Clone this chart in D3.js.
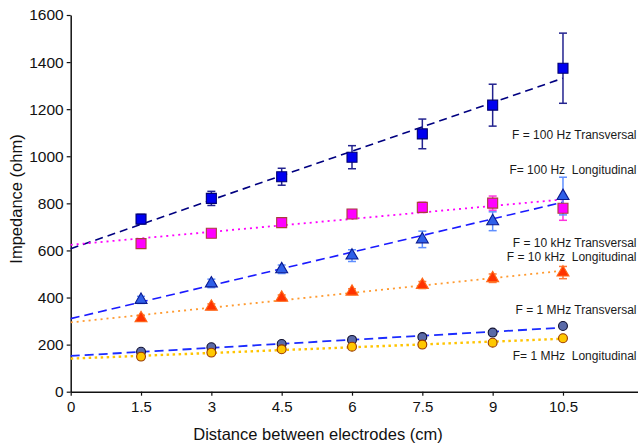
<!DOCTYPE html>
<html>
<head>
<meta charset="utf-8">
<script src="https://cdn.jsdelivr.net/npm/d3@7"></script>
<style>
  html, body { margin: 0; padding: 0; background: #fff; }
  svg { display: block; font-family: "Liberation Sans", Arial, Helvetica, sans-serif; }
</style>
</head>
<body>
<svg id="chart" width="638" height="444"></svg>
<script>
// Electrode spacing (cm)
const distances = [1.5, 3, 4.5, 6, 7.5, 9, 10.5];
const xTicks = [0, 1.5, 3, 4.5, 6, 7.5, 9, 10.5];
const yTicks = [0, 200, 400, 600, 800, 1000, 1200, 1400, 1600];

// Mean impedance (ohm) and standard deviation per frequency / orientation
const hz100Trans = [733, 821, 913, 996, 1095, 1217, 1374];
const hz100TransErr = [20, 30, 36, 49, 63, 89, 149];
const hz100Long = [629, 673, 718, 755, 783, 801, 779];
const hz100LongErr = [10, 12, 15, 15, 22, 30, 51];
const khz10Trans = [390, 460, 520, 578, 647, 724, 831];
const khz10TransErr = [15, 18, 18, 25, 35, 40, 80];
const khz10Long = [312, 361, 399, 425, 453, 482, 506];
const khz10LongErr = [12, 12, 12, 12, 15, 18, 26];
const mhz1Trans = [170, 189, 203, 220, 232, 251, 279];
const mhz1TransErr = [8, 8, 8, 8, 8, 8, 8];
const mhz1Long = [149, 166, 180, 191, 200, 208, 227];
const mhz1LongErr = [6, 6, 6, 6, 6, 6, 6];

const seriesNames = [
  "F = 100 Hz Transversal", "F= 100 Hz  Longitudinal",
  "F = 10 kHz Transversal", "F = 10 kHz  Longitudinal",
  "F = 1 MHz Transversal", "F= 1 MHz  Longitudinal"
];

const svg = d3.select("#chart");
const x = d3.scaleLinear().domain([0, 12.1]).range([70.7, 638]);
const y = d3.scaleLinear().domain([0, 1600]).range([391.7, 15]);

// Visual styling for each series
const styles = [
  { values: hz100Trans, err: hz100TransErr, shape: d3.symbolSquare, size: 100,
    fill: "#0000f0", stroke: "#000070", errColor: "#23238f", line: "#000080", dash: "8,5", lw: 1.6,
    labelY: 1073 },
  { values: hz100Long, err: hz100LongErr, shape: d3.symbolSquare, size: 100,
    fill: "#ff00ff", stroke: "#a8403a", errColor: "#ff33dd", line: "#ff00ff", dash: "2,4", lw: 1.8,
    labelY: 925 },
  { values: khz10Trans, err: khz10TransErr, shape: d3.symbolTriangle, size: 62,
    fill: "#2f5fe8", stroke: "#0a1a90", errColor: "#5f8fff", line: "#1a1aff", dash: "9,5", lw: 1.6,
    labelY: 616 },
  { values: khz10Long, err: khz10LongErr, shape: d3.symbolTriangle, size: 62,
    fill: "#ff3300", stroke: "#ff6a1a", errColor: "#ff7a3a", line: "#ff9a30", dash: "2,4", lw: 1.8,
    labelY: 556 },
  { values: mhz1Trans, err: mhz1TransErr, shape: d3.symbolCircle, size: 62,
    fill: "#5a6aa8", stroke: "#101030", errColor: "#303080", line: "#1c2cff", dash: "9,5", lw: 1.8,
    labelY: 330 },
  { values: mhz1Long, err: mhz1LongErr, shape: d3.symbolCircle, size: 62,
    fill: "#ffc800", stroke: "#9a3a00", errColor: "#c07000", line: "#ffc400", dash: "2.5,3.5", lw: 2.4,
    labelY: 135 }
];

// Least-squares fit of each series against distance
function fit(vals) {
  const mx = d3.mean(distances), my = d3.mean(vals);
  let sxy = 0, sxx = 0;
  distances.forEach((d, i) => { sxy += (d - mx) * (vals[i] - my); sxx += (d - mx) * (d - mx); });
  const slope = sxy / sxx;
  return { slope, intercept: my - slope * mx };
}

// Axes
const yAxis = d3.axisLeft(y).tickValues(yTicks).tickFormat(d3.format("d"))
  .tickSize(4).tickPadding(3).tickSizeOuter(0);
const gy = svg.append("g").attr("transform", `translate(${x(0)},0)`).call(yAxis);
gy.selectAll("text").attr("font-size", 15.5).attr("fill", "#111");

const xAxis = d3.axisBottom(x).tickValues(xTicks).tickFormat(d3.format(""))
  .tickSize(4).tickPadding(6).tickSizeOuter(0);
const gx = svg.append("g").attr("transform", `translate(0,${y(0)})`).call(xAxis);
gx.selectAll("text").attr("font-size", 15).attr("fill", "#111");
[gx, gy].forEach(g => {
  g.select(".domain").attr("stroke", "#111").attr("stroke-width", 1.5);
  g.selectAll(".tick line").attr("stroke", "#111").attr("stroke-width", 1.2);
});

// Axis titles
svg.append("text").attr("x", 318).attr("y", 440).attr("text-anchor", "middle")
  .attr("font-size", 16.5).attr("fill", "#111").text("Distance between electrodes (cm)");
svg.append("text").attr("transform", `translate(22,${(135 + 263) / 2}) rotate(-90)`)
  .attr("text-anchor", "middle").attr("font-size", 16.5).attr("fill", "#111").text("Impedance (ohm)");

// Trend lines
const gLines = svg.append("g");
styles.forEach(s => {
  const f = fit(s.values);
  gLines.append("line")
    .attr("x1", x(0)).attr("y1", y(f.intercept))
    .attr("x2", x(10.5)).attr("y2", y(f.intercept + f.slope * 10.5))
    .attr("stroke", s.line).attr("stroke-width", s.lw).attr("stroke-dasharray", s.dash);
});

// Error bars
const gErr = svg.append("g");
styles.forEach(s => {
  distances.forEach((d, i) => {
    const cx = x(d), lo = y(s.values[i] - s.err[i]), hi = y(s.values[i] + s.err[i]);
    const g = gErr.append("g").attr("stroke", s.errColor).attr("stroke-width", 1.5);
    g.append("line").attr("x1", cx).attr("x2", cx).attr("y1", lo).attr("y2", hi);
    g.append("line").attr("x1", cx - 4).attr("x2", cx + 4).attr("y1", lo).attr("y2", lo);
    g.append("line").attr("x1", cx - 4).attr("x2", cx + 4).attr("y1", hi).attr("y2", hi);
  });
});

// Markers
const gPts = svg.append("g");
styles.forEach(s => {
  const sym = d3.symbol().type(s.shape).size(s.size);
  gPts.selectAll(null).data(s.values).join("path")
    .attr("d", sym)
    .attr("transform", (v, i) => `translate(${x(distances[i])},${y(v)})`)
    .attr("fill", s.fill).attr("stroke", s.stroke).attr("stroke-width", 1.1);
});

// Series labels
styles.forEach((s, i) => {
  svg.append("text").attr("x", 636.5).attr("y", y(s.labelY)).attr("text-anchor", "end")
    .attr("font-size", 12).attr("fill", "#1a1a1a").attr("xml:space", "preserve")
    .style("white-space", "pre").text(seriesNames[i]);
});
</script>
</body>
</html>
